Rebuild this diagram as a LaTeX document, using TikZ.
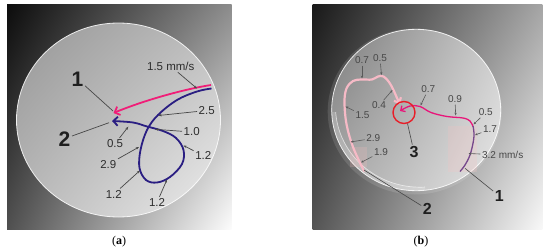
\documentclass[tikz,border=0pt]{standalone}
\usepackage{fontspec}
\setsansfont{Liberation Sans}
\setmainfont{Liberation Serif}
\usetikzlibrary{arrows.meta,shadings}
\definecolor{sqA1}{RGB}{12,12,12}
\definecolor{sqA2}{RGB}{140,140,140}
\definecolor{sqA3}{RGB}{80,80,80}
\definecolor{sqA4}{RGB}{252,252,252}
\definecolor{dkA1}{RGB}{150,150,150}
\definecolor{dkA2}{RGB}{190,190,190}
\definecolor{dkA3}{RGB}{185,185,185}
\definecolor{dkA4}{RGB}{238,238,238}
\definecolor{sqB1}{RGB}{25,25,25}
\definecolor{sqB2}{RGB}{165,165,165}
\definecolor{sqB3}{RGB}{85,85,85}
\definecolor{sqB4}{RGB}{248,248,248}
\definecolor{dkB1}{RGB}{125,125,125}
\definecolor{dkB2}{RGB}{205,205,205}
\definecolor{dkB3}{RGB}{170,170,170}
\definecolor{dkB4}{RGB}{232,232,232}
\definecolor{hotpink}{RGB}{240,30,120}
\definecolor{navy}{RGB}{42,30,130}
\definecolor{palepink}{RGB}{246,186,198}
\definecolor{magent}{RGB}{232,22,122}
\definecolor{purp}{RGB}{118,72,140}
\definecolor{ringred}{RGB}{232,30,40}
\definecolor{txtgray}{RGB}{45,45,45}
\begin{document}
\begin{tikzpicture}[x=1pt,y=-1pt,
  lbl/.style={font=\sffamily\fontsize{11.5}{12}\selectfont, text=txtgray, inner sep=1.5pt},
  lblb/.style={font=\sffamily\fontsize{10}{11}\selectfont, text=black!72, inner sep=1.5pt},
  biga/.style={font=\sffamily\bfseries\fontsize{21}{22}\selectfont, text=black!88, inner sep=1.5pt},
  bigb/.style={font=\sffamily\bfseries\fontsize{16}{17}\selectfont, text=black!88, inner sep=1.5pt},
  lead/.style={draw=black!72, line width=0.7pt, -{Stealth[length=3.2pt,width=2.4pt]}},
  leadb/.style={draw=black!65, line width=0.6pt, -{Stealth[length=2.8pt,width=2.2pt]}},
  leadplain/.style={draw=black!72, line width=0.7pt},
  captext/.style={font=\fontsize{12}{13}\selectfont, inner sep=0pt},
  rim/.style={draw=white, line width=0.8pt, draw opacity=0.85}
]
\useasboundingbox[fill=white] (0,0) rectangle (550,252);

% ================= Panel (a) =================
\shade[upper left=sqA1, upper right=sqA2, lower left=sqA3, lower right=sqA4] (7,4) rectangle (231.5,229);
\shade[upper left=dkA1, upper right=dkA2, lower left=dkA3, lower right=dkA4] (118.5,120) ellipse [x radius=102pt, y radius=97pt];
\draw[rim] (118.5,120) ellipse [x radius=102pt, y radius=97pt];

% pink trajectory 1
\draw[hotpink, line width=1.8pt, -{Straight Barb[length=4.5pt,width=9pt]}]
  (211,85) .. controls (185,89) and (145,100) .. (113.5,113);
% blue trajectory 2
\draw[navy, line width=1.8pt, -{Straight Barb[length=4.5pt,width=9pt]}]
  plot[smooth, tension=0.6] coordinates {(211.5,88.5) (197,91.5) (177,100) (158,115) (147,130) (140.5,150) (139.5,168) (146,180) (157,182.5) (170,177) (182,164) (183.5,150) (176,138) (163,131) (147,126.5) (133,122.5) (112,121)};

% labels (a)
\node[biga] (a1) at (77.5,79) {1};
\node[biga] (a2) at (64.5,138.7) {2};
\coordinate (a1e) at (113,111);
\coordinate (a2e) at (109,122.7);
\draw[leadplain] (a1) -- (a1e);
\draw[leadplain] (a2) -- (a2e);

\node[lbl] (av0) at (170.8,66.3) {1.5 mm/s};
\node[lbl] (av1) at (206.7,110.5) {2.5};
\node[lbl] (av2) at (191.7,132) {1.0};
\node[lbl] (av3) at (115,143.8) {0.5};
\node[lbl] (av4) at (203.3,155.7) {1.2};
\node[lbl] (av5) at (108.3,164.3) {2.9};
\node[lbl] (av6) at (113.8,194.2) {1.2};
\node[lbl] (av7) at (157,202.5) {1.2};
\coordinate (av0e) at (197,88.5);
\coordinate (av1e) at (158.5,115.5);
\coordinate (av2e) at (155,129.3);
\coordinate (av3e) at (128.3,126.7);
\coordinate (av4e) at (183.5,145.5);
\coordinate (av5e) at (139,147);
\coordinate (av6e) at (140,170.5);
\coordinate (av7e) at (167,179.5);
\foreach \i in {0,...,7} {\draw[lead] (av\i) -- (av\i e);}

\node[captext] (capa) at (119,242) {(\textbf{a})};

% ================= Panel (b) =================
\shade[upper left=sqB1, upper right=sqB2, lower left=sqB3, lower right=sqB4] (312.7,4) rectangle (542.3,229);
% soft glow just outside the disk, lower left
\fill[white, opacity=0.12] (414.7,111.5) ellipse [x radius=87pt, y radius=83pt];
\shade[upper left=dkB1, upper right=dkB2, lower left=dkB3, lower right=dkB4] (416.2,110) ellipse [x radius=84.5pt, y radius=80.7pt];
\draw[rim] (416.2,110) ellipse [x radius=84.5pt, y radius=80.7pt];
% rim thickness (inner edge, lower left)
\begin{scope}
  \clip (320,112) rectangle (425,200);
  \fill[white, opacity=0.18, even odd rule]
    (416.2,110) ellipse [x radius=84.5pt, y radius=80.7pt]
    (420,106.5) ellipse [x radius=84.5pt, y radius=80.7pt];
  \draw[white, line width=0.7pt, draw opacity=0.6] (420,106.5) ellipse [x radius=84.5pt, y radius=80.7pt];
\end{scope}

% faint pink highlight areas
\fill[pink, opacity=0.2] (448,126) rectangle (477,172);
\fill[pink, opacity=0.2] (350,147) rectangle (367,167);

% pale pink trajectory 2
\draw[palepink, line width=2.2pt, line cap=round, -{Straight Barb[length=4pt,width=8pt]}]
  plot[smooth, tension=0.6] coordinates {(364,171) (353,147) (346.5,124) (344.5,102) (346.5,88.5) (353,81) (361.5,79.5) (372,79.5) (378,76.5) (383.5,76.5) (389,82) (393.5,90) (397,98) (400,104)};
% magenta trajectory 1
\draw[magent, line width=1.3pt, -{Straight Barb[length=3.5pt,width=7pt]}]
  plot[smooth, tension=0.6] coordinates {(473,126.5) (470,121) (463,118) (447,116.5) (431,112.5) (420,106.5) (410,106) (400,111)};
% purple segment
\draw[purp, line width=1.3pt]
  plot[smooth, tension=0.6] coordinates {(473,126) (474,133) (473.3,141.7) (470,155) (465,165) (460,171.5)};
% red ring 3
\draw[ringred, line width=1.4pt] (404,112.5) circle [radius=11pt];

% labels (b)
\node[bigb] (b3) at (414,152) {3};
\node[bigb] (b2) at (427.3,209.3) {2};
\node[bigb] (b1) at (499.3,196) {1};
\coordinate (b3e) at (407.5,123.5);
\coordinate (b2e) at (364,170);
\coordinate (b1e) at (465,168.3);
\draw[leadplain, line width=0.6pt] (b3) -- (b3e);
\draw[leadplain, line width=0.6pt] (b2) -- (b2e);
\draw[leadplain, line width=0.6pt] (b1) -- (b1e);

\node[lblb] (bv0) at (362,60.5) {0.7};
\node[lblb] (bv1) at (380,58.5) {0.5};
\node[lblb] (bv2) at (379,105.5) {0.4};
\node[lblb] (bv3) at (362.5,115) {1.5};
\node[lblb] (bv4) at (428.3,89.5) {0.7};
\node[lblb] (bv5) at (455,99.5) {0.9};
\node[lblb] (bv6) at (485.7,112.5) {0.5};
\node[lblb] (bv7) at (490,129.5) {1.7};
\node[lblb] (bv8) at (502.7,155) {3.2 mm/s};
\node[lblb] (bv9) at (373.3,138.3) {2.9};
\node[lblb] (bv10) at (381,152) {1.9};
\coordinate (bv0e) at (362,78.5);
\coordinate (bv1e) at (381.5,75);
\coordinate (bv2e) at (392.5,90);
\coordinate (bv3e) at (345.5,106.5);
\coordinate (bv4e) at (420.5,105.5);
\coordinate (bv5e) at (455.7,115.5);
\coordinate (bv6e) at (473.5,124.5);
\coordinate (bv7e) at (475,135);
\coordinate (bv8e) at (468.5,153.5);
\coordinate (bv9e) at (350.5,142);
\coordinate (bv10e) at (361,162.5);
\foreach \i in {0,...,10} {\draw[leadb] (bv\i) -- (bv\i e);}

\node[captext] (capb) at (421,242) {(\textbf{b})};
\end{tikzpicture}
\end{document}
